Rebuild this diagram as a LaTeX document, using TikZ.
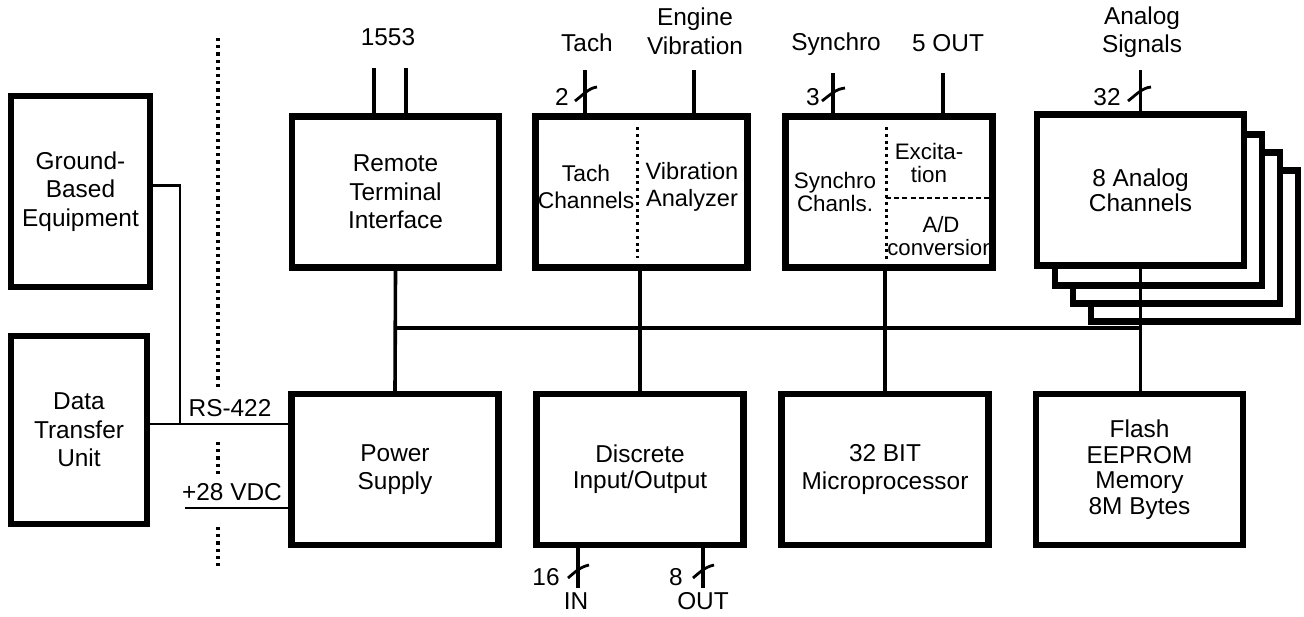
\documentclass[tikz,border=0pt]{standalone}
\usepackage{fontspec}
\setmainfont{Liberation Sans}
\begin{document}
\begin{tikzpicture}[x=0.5pt,y=-0.5pt,
  every node/.style={font=\fontsize{12.2}{14.3}\selectfont},
  blk/.style={draw, line width=3.2pt, inner sep=0pt, minimum width=103.5pt, minimum height=75.5pt, align=center, fill=white},
  lbl/.style={inner sep=0pt, align=center},
  tight/.style={font=\fontsize{11.2}{11.5}\selectfont},
  wire/.style={line width=1.8pt},
  thinwire/.style={line width=1.1pt},
  sigwire/.style={line width=1.4pt},
  sepdot/.style={line width=1.6pt, dash pattern=on 1.6pt off 2pt},
  divdot/.style={line width=1.5pt, dash pattern=on 1.5pt off 1.9pt},
  divdash/.style={line width=1.2pt, dash pattern=on 2.5pt off 1.6pt},
  tick/.style={line width=1.4pt}]
\useasboundingbox (0,0) rectangle (1304,616);

% left boxes
\node[blk, minimum width=69.5pt, minimum height=95.5pt] (gbe) at (80.5,191.5) {Ground-\\Based\\Equipment};
\node[blk, minimum width=68pt, minimum height=94pt] (dtu) at (79,430) {Data\\Transfer\\Unit};

% top row
\node[blk] (rti) at (395.5,192) {Remote\\Terminal\\Interface};
\node[blk, minimum width=106pt] (tv) at (641.5,192) {};
\node[blk] (syn) at (889,192) {};
\node[blk] (an3) at (1194.5,246) {};
\node[blk] (an2) at (1176.5,228) {};
\node[blk] (an1) at (1158.5,210) {};
\node[blk, font=\fontsize{12.2}{12.5}\selectfont] (an) at (1140.5,190) {8 Analog\\Channels};

% bottom row
\node[blk] (ps) at (395,469.5) {Power\\Supply};
\node[blk, font=\fontsize{12.2}{13}\selectfont] (dio) at (640,469.5) {Discrete\\Input/Output};
\node[blk] (mp) at (885,469.5) {32 BIT\\Microprocessor};
\node[blk, font=\fontsize{12.2}{12.8}\selectfont] (fl) at (1139.5,469.5) {Flash\\EEPROM\\Memory\\8M Bytes};

% inner texts and dividers
\draw[divdot] (637,127) -- (637,258);
\node[lbl, font=\fontsize{11.4}{13.5}\selectfont] (tachch) at (586,187) {Tach\\Channels};
\node[lbl, font=\fontsize{11.8}{13.5}\selectfont] (viban) at (692,187) {Vibration\\Analyzer};
\draw[divdot] (886,127) -- (886,260);
\draw[divdash] (886,198) -- (995,198);
\node[lbl, tight] (synch) at (835,192) {Synchro\\Chanls.};
\node[lbl, tight] (excit) at (929,163) {Excita-\\tion};
\node[lbl, font=\fontsize{11.1}{11.3}\selectfont] (adc) at (941,236) {A/D\\conversion};

% top labels and input lines
\node[lbl] (l1553) at (388,37) {1553};
\node[lbl] (ltach) at (587,43) {Tach};
\node[lbl] (leng) at (695,31) {Engine\\Vibration};
\node[lbl] (lsyn) at (836,44) {Synchro};
\node[lbl] (l5out) at (948,43) {5 OUT};
\node[lbl] (lana) at (1142,32) {Analog\\Signals};

\coordinate (b1) at (374,68);
\coordinate (b2) at (406,68);
\coordinate (tachin) at (585,70);
\coordinate (engin) at (694,70);
\coordinate (synin) at (833,73);
\coordinate (outs) at (943,73);
\coordinate (anin) at (1140.5,70);
\draw[wire] (b1) -- (b1 |- rti.north);
\draw[wire] (b2) -- (b2 |- rti.north);
\draw[wire] (tachin) -- (tachin |- tv.north);
\draw[wire] (engin) -- (engin |- tv.north);
\draw[wire] (synin) -- (synin |- syn.north);
\draw[wire] (outs) -- (outs |- syn.north);
\draw[wire] (anin) -- (anin |- an.north);

% bus slashes and counts
\draw[tick] (575,101) .. controls (584,94) and (589,88) .. (597,87);
\node[lbl] (n2) at (562,97) {2};
\draw[tick] (822,101) .. controls (831,94) and (836,89) .. (845,88);
\node[lbl] (n3) at (813,97) {3};
\draw[tick] (1128,101) .. controls (1137,94) and (1142,88) .. (1151,87);
\node[lbl] (n32) at (1107,97) {32};

% bottom outputs
\coordinate (din) at (578,588);
\coordinate (dout) at (703,588);
\draw[wire] (din |- dio.south) -- (din);
\draw[wire] (dout |- dio.south) -- (dout);
\draw[tick] (568,578) .. controls (575,572) and (580,567) .. (589,565);
\draw[tick] (693,578) .. controls (700,572) and (705,567) .. (714,565);
\node[lbl] (n16) at (546,577) {16};
\node[lbl] (n8) at (676,577) {8};
\node[lbl] (lin) at (576,601) {IN};
\node[lbl] (lout) at (703,601) {OUT};

% bus
\coordinate (busL) at (395.5,328);
\coordinate (busR) at (1140.5,328);
\draw[wire] (rti.south) -- (ps.north);
\draw[wire] (busL) -- (busR);
\draw[wire] (dio.north) -- (dio.north |- tv.south);
\draw[wire] (mp.north) -- (mp.north |- syn.south);
\draw[wire] (an.south) -- (fl.north -| an.south);

% left side connections
\coordinate (rs) at ([yshift=3pt]dtu.east);
\coordinate (gbeout) at ([yshift=3pt]gbe.east);
\path (180,0) coordinate (jx);
\coordinate (j) at (rs -| jx);
\draw[sigwire] (rs) -- (rs -| ps.west);
\draw[thinwire] (gbeout) -| (j);
\coordinate (v28) at (185,508);
\draw[sigwire] (v28) -- (v28 -| ps.west);
\node[lbl] (lrs) at (230,408) {RS-422};
\node[lbl] (lvdc) at (232,492) {+28 VDC};

% separator
\draw[sepdot] (218,38) -- (218,387);
\draw[sepdot] (218,442) -- (218,475);
\draw[sepdot] (218,527) -- (218,568);
\end{tikzpicture}
\end{document}
